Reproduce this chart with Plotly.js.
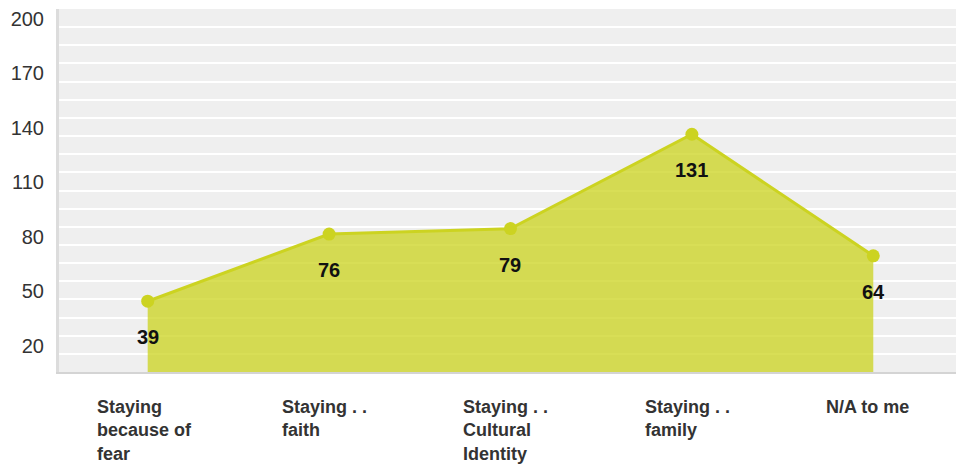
<!DOCTYPE html>
<html>
<head>
<meta charset="utf-8">
<script src="https://cdn.plot.ly/plotly-3.0.1.min.js"></script>
<style>html,body{margin:0;padding:0;background:#fff;}#chart{width:956px;height:471px;}</style>
</head>
<body>
<div id="chart"></div>
<script>
const categories = ["Staying because of fear", "Staying . . faith", "Staying . . Cultural Identity", "Staying . . family", "N/A to me"];
const categoryLabels = ["Staying<br>because of<br>fear", "Staying . .<br>faith", "Staying . .<br>Cultural<br>Identity", "Staying . .<br>family", "N/A to me"];
const values = [39, 76, 79, 131, 64];
const yTickVals = [20, 50, 80, 110, 140, 170, 200];

const xIdx = categories.map((c, i) => i);

const trace = {
  x: xIdx,
  y: values,
  type: 'scatter',
  mode: 'lines+markers',
  fill: 'tozeroy',
  fillcolor: 'rgba(204,211,33,0.76)',
  line: {color: '#ccd321', width: 3},
  marker: {color: '#ccd321', size: 13},
  hoverinfo: 'none'
};

const annotations = [];
values.forEach((v, i) => {
  annotations.push({
    x: i, y: v, xref: 'x', yref: 'y',
    text: '<b>' + v + '</b>', showarrow: false,
    xanchor: 'center', yanchor: 'middle', yshift: -36,
    font: {family: 'Liberation Sans, Arial, sans-serif', size: 20, color: '#111'}
  });
});
categoryLabels.forEach((t, i) => {
  annotations.push({
    x: i, y: 0, xref: 'x', yref: 'paper',
    text: '<b>' + t + '</b>', showarrow: false,
    xanchor: 'left', yanchor: 'top', align: 'left', xshift: i === 0 ? -53 : -49, yshift: -23,
    font: {family: 'Liberation Sans, Arial, sans-serif', size: 18, color: '#333'}
  });
});

const layout = {
  width: 956, height: 471,
  margin: {l: 59, r: 0, t: 9, b: 99},
  paper_bgcolor: '#ffffff',
  plot_bgcolor: '#efefef',
  showlegend: false,
  xaxis: {
    range: [-0.489, 4.456],
    showticklabels: false,
    showgrid: false, zeroline: false,
    showline: true, linecolor: '#d4d4d4', linewidth: 2,
    fixedrange: true
  },
  yaxis: {
    range: [0, 200],
    tickvals: yTickVals,
    ticktext: yTickVals.map(String),
    ticks: '',
    ticklabelshift: 10,
    ticklabelstandoff: 8,
    tickfont: {family: 'Liberation Sans, Arial, sans-serif', size: 20, color: '#333'},
    showgrid: true, gridcolor: '#ffffff', gridwidth: 2,
    minor: {dtick: 10, tick0: 0, showgrid: true, gridcolor: '#ffffff', gridwidth: 2},
    zeroline: false,
    showline: true, linecolor: '#dcdcdc', linewidth: 3,
    fixedrange: true
  },
  annotations: annotations
};

Plotly.newPlot('chart', [trace], layout, {displayModeBar: false, staticPlot: true});
</script>
</body>
</html>
